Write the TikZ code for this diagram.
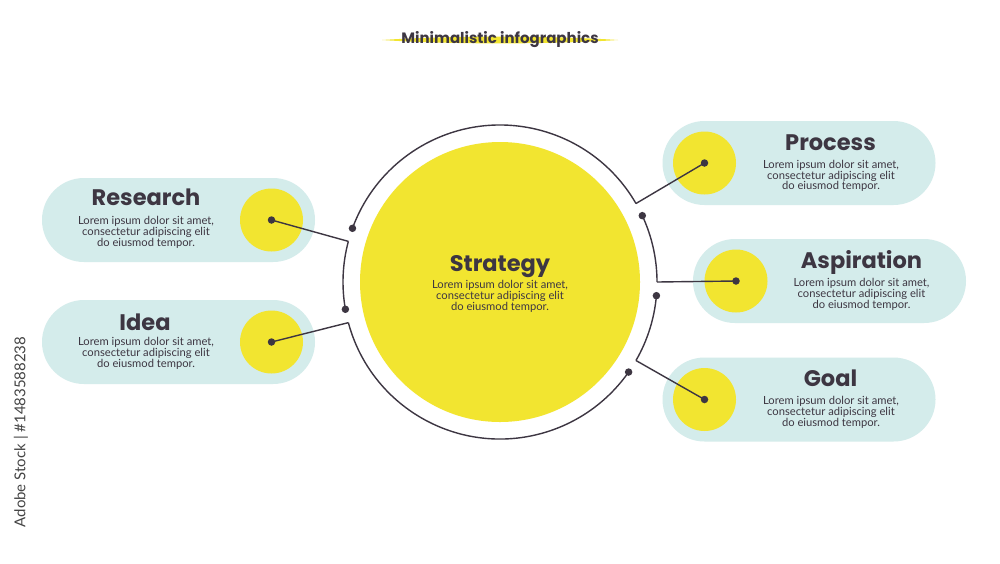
\documentclass[tikz,border=0pt]{standalone}
\usepackage{fontspec}
\setmainfont{Lato}
\newfontfamily\titlefont{Poppins}
\newfontfamily\bodyfont{Lato}
\usetikzlibrary{calc}
\definecolor{ink}{HTML}{3D3642}
\definecolor{pillc}{HTML}{D4ECEB}
\definecolor{sun}{HTML}{F2E530}
\definecolor{wm}{HTML}{444444}
\begin{document}
\begin{tikzpicture}[x=1pt,y=-1pt,
  pill/.style={fill=pillc, rounded corners=42pt, minimum width=273pt, minimum height=84pt, inner sep=0pt},
  ball/.style={circle, fill=sun, minimum size=63pt, inner sep=0pt},
  hubdot/.style={circle, fill=ink, minimum size=7.5pt, inner sep=0pt},
  title/.style={font=\titlefont\bfseries\fontsize{22.5}{24}\selectfont, text=ink, anchor=base, inner sep=0pt},
  body/.style={font=\bodyfont\fontsize{11.2}{10.8}\selectfont, text=ink, align=center, inner sep=0pt},
  link/.style={draw=ink, line width=1.4pt},
]
\useasboundingbox (0,0) rectangle (1000,563);
\fill[white] (0,0) rectangle (1000,563);

% header
\fill[sun] (382,40) .. controls (450,35.5) and (550,35.5) .. (618,40)
           .. controls (550,44.5) and (450,44.5) .. (382,40) -- cycle;
\node[font=\titlefont\bfseries\fontsize{15}{15}\selectfont, text=ink, inner sep=0pt] (head) at (500,40) {Minimalistic infographics};

% watermark
\node[font=\bodyfont\fontsize{15}{15}\selectfont, text=wm, rotate=90, inner sep=0pt] (stock) at (21,432) {Adobe Stock | \#1483588238};

% core
\node[circle, fill=sun, minimum size=280pt, inner sep=0pt] (core) at (500,282) {};
\node[title] (coret) at (500,271.7) {Strategy};
\node[body] (coreb) at (500,296.5) {Lorem ipsum dolor sit amet,\\consectetur adipiscing elit\\do eiusmod tempor.};

% ring coordinates
\coordinate (kP) at ($(core.center)+(-30:157)$);
\coordinate (dP) at ($(core.center)+(-160:157)$);
\coordinate (kR) at ($(core.center)+(-165:157)$);
\coordinate (dR) at ($(core.center)+(-190:157)$);
\coordinate (kI) at ($(core.center)+(-195:157)$);
\coordinate (dI) at ($(core.center)+(-325:157)$);
\coordinate (kG) at ($(core.center)+(30:157)$);
\coordinate (dG) at ($(core.center)+(5:157)$);
\coordinate (kA) at ($(core.center)+(0:157)$);
\coordinate (dA) at ($(core.center)+(-25:157)$);

\draw[link] (kP) arc[start angle=-30, end angle=-160, radius=157];
\draw[link] (kR) arc[start angle=-165, end angle=-190, radius=157];
\draw[link] (kI) arc[start angle=-195, end angle=-325, radius=157];
\draw[link] (kG) arc[start angle=30, end angle=5, radius=157];
\draw[link] (kA) arc[start angle=0, end angle=-25, radius=157];

\foreach \d in {dP,dR,dI,dG,dA} \node[hubdot] at (\d) {};

% Research
\node[pill] (researchpill) at (178.5,220) {};
\node[ball] (research) at (271.5,220) {};
\node[title] (researcht) at (146,205) {Research};
\node[body] (researchb) at (146,232.5) {Lorem ipsum dolor sit amet,\\consectetur adipiscing elit\\do eiusmod tempor.};

% Idea
\node[pill] (ideapill) at (178.5,342) {};
\node[ball] (idea) at (271.5,342) {};
\node[title] (ideat) at (145,330) {Idea};
\node[body] (ideab) at (146,353.5) {Lorem ipsum dolor sit amet,\\consectetur adipiscing elit\\do eiusmod tempor.};

% Process
\node[pill] (processpill) at (799,163) {};
\node[ball] (process) at (704.5,163) {};
\node[title] (processt) at (830.5,150) {Process};
\node[body] (processb) at (831,176) {Lorem ipsum dolor sit amet,\\consectetur adipiscing elit\\do eiusmod tempor.};

% Aspiration
\node[pill] (aspirationpill) at (829.5,281) {};
\node[ball] (aspiration) at (736,281) {};
\node[title] (aspirationt) at (861.5,268.5) {Aspiration};
\node[body] (aspirationb) at (861.5,294.5) {Lorem ipsum dolor sit amet,\\consectetur adipiscing elit\\do eiusmod tempor.};

% Goal
\node[pill] (goalpill) at (799,399.5) {};
\node[ball] (goal) at (704.5,399.5) {};
\node[title] (goalt) at (830.5,386) {Goal};
\node[body] (goalb) at (831,412.5) {Lorem ipsum dolor sit amet,\\consectetur adipiscing elit\\do eiusmod tempor.};

% connectors
\draw[link] (research.center) -- (kR);
\draw[link] (idea.center) -- (kI);
\draw[link] (process.center) -- (kP);
\draw[link] (aspiration.center) -- (kA);
\draw[link] (goal.center) -- (kG);
\foreach \b in {research,idea,process,aspiration,goal} \node[hubdot] at (\b.center) {};
\end{tikzpicture}
\end{document}
